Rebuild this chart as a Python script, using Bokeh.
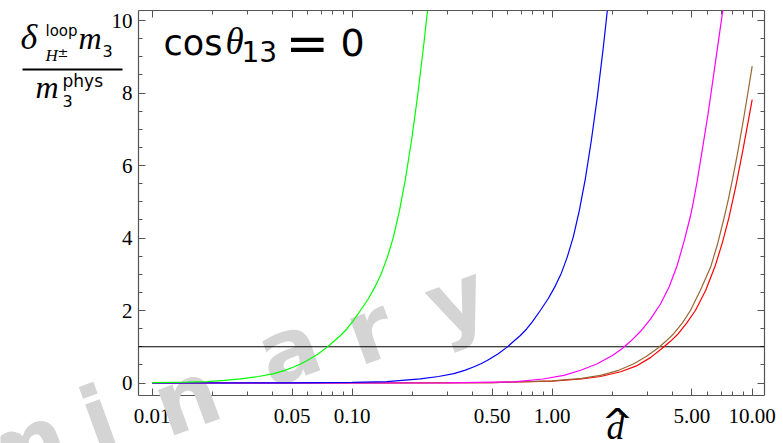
from bokeh.plotting import figure
from bokeh.models import (Range1d, FixedTicker, LinearAxis, LogAxis, NumeralTickFormatter,
                          Label, BoxAnnotation)
from bokeh.embed import file_html
from bokeh.resources import INLINE

# ---------------- data ----------------
green_d = [0.0100, 0.0150, 0.0188, 0.0230, 0.0276, 0.0340, 0.0406, 0.0460, 0.0510, 0.0555,
           0.0596, 0.0675, 0.0750, 0.0810, 0.0874, 0.0940, 0.1000, 0.1100, 0.1206, 0.1308,
           0.1401, 0.1501, 0.1609, 0.1724, 0.1847, 0.1979, 0.2121, 0.2272, 0.2379]
green_y = [0.01, 0.025, 0.04, 0.07, 0.115, 0.18, 0.26, 0.35, 0.44, 0.53,
           0.62, 0.80, 0.99, 1.15, 1.31, 1.49, 1.68, 2.00, 2.33, 2.68,
           3.03, 3.48, 4.04, 4.76, 5.64, 6.69, 7.90, 9.27, 10.27]

blue_d = [0.010, 0.050, 0.100, 0.149, 0.219, 0.270, 0.322, 0.365, 0.404, 0.440,
          0.473, 0.535, 0.595, 0.642, 0.693, 0.745, 0.793, 0.872, 0.956, 1.037,
          1.111, 1.190, 1.276, 1.367, 1.465, 1.569, 1.682, 1.802, 1.886]
blue_y = [0.0, 0.005, 0.02, 0.04, 0.115, 0.18, 0.26, 0.35, 0.44, 0.53,
          0.62, 0.80, 0.99, 1.15, 1.31, 1.49, 1.68, 2.00, 2.33, 2.68,
          3.03, 3.48, 4.04, 4.76, 5.64, 6.69, 7.90, 9.27, 10.27]

magenta_d = [0.010, 0.100, 0.300, 0.643, 0.900, 1.143, 1.400, 1.679, 2.000, 2.240,
             2.464, 2.760, 3.100, 3.480, 3.850, 4.220, 4.560, 4.910, 5.070, 5.300,
             5.620, 6.000, 6.500, 7.130]
magenta_y = [0.0, 0.0, 0.005, 0.03, 0.11, 0.21, 0.36, 0.53, 0.76, 0.95,
             1.15, 1.42, 1.76, 2.18, 2.66, 3.25, 3.90, 4.60, 4.97, 5.55,
             6.41, 7.38, 8.72, 10.28]

brown_d = [0.010, 0.100, 0.500, 1.000, 1.400, 1.744, 2.150, 2.560, 2.950, 3.370,
           3.700, 4.050, 4.480, 4.910, 5.500, 6.190, 6.700, 7.210, 7.590, 8.000,
           8.410, 9.000, 9.500, 10.000]
brown_y = [0.0, 0.0, 0.01, 0.06, 0.13, 0.21, 0.35, 0.53, 0.73, 0.96,
           1.15, 1.36, 1.66, 2.00, 2.55, 3.19, 3.82, 4.52, 5.05, 5.66,
           6.28, 7.20, 7.98, 8.74]

red_d = [0.010, 0.100, 0.500, 1.000, 1.400, 1.744, 2.200, 2.660, 3.100, 3.550,
         3.900, 4.270, 4.700, 5.200, 5.850, 6.550, 7.100, 7.640, 8.250, 8.910,
         9.450, 10.000]
red_y = [0.0, 0.0, 0.01, 0.05, 0.11, 0.18, 0.31, 0.48, 0.70, 0.96,
         1.15, 1.36, 1.65, 2.00, 2.55, 3.25, 3.88, 4.55, 5.38, 6.32,
         7.08, 7.82]

ref_level = 1.0

x_major = [0.01, 0.05, 0.1, 0.5, 1, 5, 10]
x_minor = [0.02, 0.03, 0.04, 0.06, 0.07, 0.08, 0.09,
           0.2, 0.3, 0.4, 0.6, 0.7, 0.8, 0.9,
           2, 3, 4, 6, 7, 8, 9]
y_major = [0, 2, 4, 6, 8, 10]
y_minor = [0.5, 1, 1.5, 2.5, 3, 3.5, 4.5, 5, 5.5, 6.5, 7, 7.5, 8.5, 9, 9.5]

# plotting box (frame of the chart) and the whole canvas, in data units
box_x = (0.00854, 11.48)
box_y = (-0.345, 10.276)
canvas_x = (0.001743, 14.34)
canvas_y = (-1.669, 10.552)

W, H = 783, 443

# ---------------- figure ----------------
p = figure(width=W, height=H, x_axis_type="log",
           x_axis_location=None, y_axis_location=None,
           x_range=Range1d(*canvas_x), y_range=Range1d(*canvas_y),
           output_backend="svg", toolbar_location=None)
p.min_border = 0
p.min_border_left = 0
p.min_border_right = 0
p.min_border_top = 0
p.min_border_bottom = 0
p.xgrid.visible = False
p.ygrid.visible = False
p.outline_line_color = None
p.background_fill_color = "white"
p.border_fill_color = "white"

FRAME = "#555555"


def style_axis(ax, ticks, minors, labels=True):
    ax.ticker = FixedTicker(ticks=ticks, minor_ticks=minors)
    ax.axis_line_color = FRAME
    ax.axis_line_width = 1.2
    ax.major_tick_line_color = FRAME
    ax.minor_tick_line_color = FRAME
    ax.major_tick_in = 7
    ax.major_tick_out = 0
    ax.minor_tick_in = 4
    ax.minor_tick_out = 0
    if labels:
        ax.major_label_text_font = "Liberation Serif"
        ax.major_label_text_font_size = "21px"
        ax.major_label_text_color = "black"
    else:
        ax.major_label_text_color = None


xb = LogAxis(fixed_location=box_y[0], bounds=box_x)
style_axis(xb, x_major, x_minor)
xb.formatter = NumeralTickFormatter(format="0.00")
xb.major_label_standoff = 13
p.add_layout(xb, "below")

xt = LogAxis(fixed_location=box_y[1], bounds=box_x)
style_axis(xt, x_major, x_minor, labels=False)
p.add_layout(xt, "above")

yl = LinearAxis(fixed_location=box_x[0], bounds=box_y)
style_axis(yl, y_major, y_minor)
yl.major_label_standoff = 6
p.add_layout(yl, "left")

yr = LinearAxis(fixed_location=box_x[1], bounds=box_y)
style_axis(yr, y_major, y_minor, labels=False)
p.add_layout(yr, "right")

# ---------------- texts (screen units; frame == whole canvas) ----------------


def lab(sx, sy, text, font, size, style="normal", align="left", color="black",
        angle=0, level="annotation"):
    p.add_layout(Label(x=sx, y=H - sy, x_units="screen", y_units="screen", text=text,
                       text_font=font, text_font_size=f"{size}px", text_font_style=style,
                       text_align=align, text_baseline="middle", text_color=color,
                       angle=angle, angle_units="deg", level=level))


SERIF = "Liberation Serif"
SANS = "DejaVu Sans"

# watermark (under the curves, over the tick labels)
WM = "#d4d4d4"
for ch, sx, sy in [("m", 20, 447), ("i", 98, 418), ("n", 186, 398),
                   ("a", 288, 349), ("r", 369, 330), ("y", 456, 299)]:
    lab(sx, sy, ch, SANS, 88, "bold", align="center", color=WM, angle=20)

# reference line and curves (top level)
p.line(list(box_x), [ref_level, ref_level], line_color="black", line_width=1, level="overlay")
p.line(red_d, red_y, line_color="#ff0000", line_width=1.2, level="overlay")
p.line(brown_d, brown_y, line_color="#996633", line_width=1.2, level="overlay")
p.line(magenta_d, magenta_y, line_color="#ff00ff", line_width=1.2, level="overlay")
p.line(blue_d, blue_y, line_color="#0000ff", line_width=1.2, level="overlay")
p.line(green_d, green_y, line_color="#00ff00", line_width=1.2, level="overlay")

# y-axis label (fraction)
lab(20, 36, "δ", SERIF, 36, "italic")
lab(45, 30, "loop", SANS, 15)
lab(45, 55, "H", SERIF, 17, "italic")
lab(57, 52, "±", SANS, 13)
lab(78, 37, "m", SERIF, 32, "italic")
lab(102, 50, "3", SANS, 16)
p.add_layout(BoxAnnotation(left=22, right=122, top=H - 68, bottom=H - 70,
                           left_units="screen", right_units="screen",
                           top_units="screen", bottom_units="screen",
                           fill_color="black", fill_alpha=1.0, line_color=None))
lab(35, 86, "m", SERIF, 32, "italic")
lab(62, 80, "phys", SANS, 17)
lab(62, 100, "3", SANS, 16)

# cos theta_13 = 0
lab(163, 42, "cos", SANS, 35)
lab(225, 41, "θ", SERIF, 37, "italic")
lab(241, 51, "13", SANS, 28)
lab(285, 42, "=", SANS, 52)
lab(340, 42, "0", SANS, 38)

# x-axis label d-hat
lab(615, 426, "d", SERIF, 36, "italic", align="center")
lab(617, 421, "^", SANS, 38, align="center")

open("out.html", "w").write(file_html(p, INLINE))
